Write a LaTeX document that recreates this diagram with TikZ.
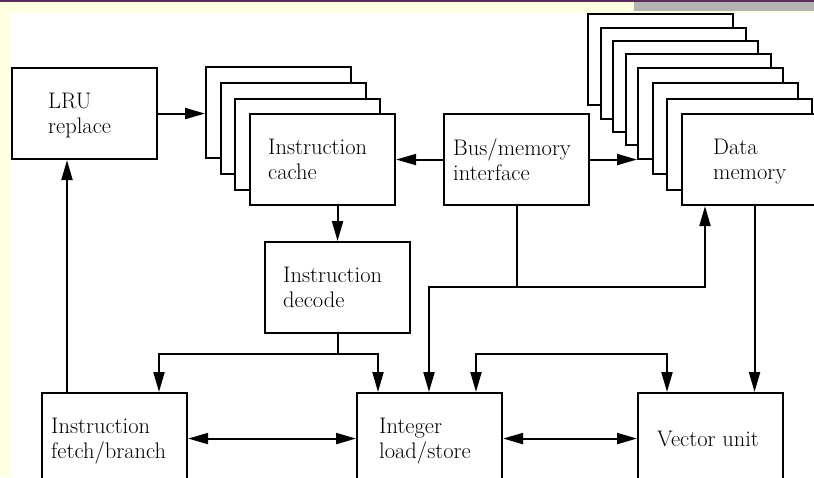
\documentclass[tikz,border=0pt]{standalone}
\usetikzlibrary{arrows.meta,calc}
\definecolor{pagebg}{HTML}{FFFFE2}
\definecolor{barpurple}{HTML}{5C2D5C}
\definecolor{tabgray}{HTML}{B3B3B3}
\tikzset{
  blk/.style={draw, fill=white, line width=2.1pt, minimum width=145pt,
    minimum height=91pt, inner sep=0pt, anchor=north west},
  lbl/.style={anchor=west, align=left, inner sep=0pt, text depth=0pt,
    font=\fontsize{22.5}{25}\selectfont},
  wire/.style={line width=2.1pt},
  arr/.style={wire, -{Triangle[length=20pt,width=11pt]}},
  darr/.style={wire, {Triangle[length=20pt,width=11pt]}-{Triangle[length=20pt,width=11pt]}},
}
\begin{document}
\begin{tikzpicture}[x=1pt,y=-1pt]
\useasboundingbox (0,0) rectangle (814,477);
\clip (0,0) rectangle (814,477);
% page background, title bar and tab
\fill[pagebg] (0,0) rectangle (814,477);
\fill[white] (9.5,13) rectangle (814,477);
\fill[tabgray] (634,1) rectangle (814,11);
\fill[barpurple] (0,0) rectangle (814,1.6);

% LRU replacement logic
\node[blk] (lru) at (11,67) {};
\node[lbl] (lruT) at ($(lru.west)+(37,0)$) {LRU\\replace};

% instruction cache banks
\node[blk] (c1) at (205,66) {};
\node[blk] (c2) at (220,82) {};
\node[blk] (c3) at (234,98) {};
\node[blk] (c4) at (249,113) {};
\node[lbl] (c4T) at ($(c4.west)+(19,0)$) {Instruction\\cache};

% bus interface
\node[blk] (bus) at (443,113) {};
\node[lbl] (busT) at ($(bus.west)+(10,0)$) {Bus/memory\\interface};

% data memory banks
\node[blk] (d1) at (587,13) {};
\node[blk] (d2) at (600,27) {};
\node[blk] (d3) at (612,40) {};
\node[blk] (d4) at (625,53) {};
\node[blk] (d5) at (637,67) {};
\node[blk] (d6) at (652,82) {};
\node[blk] (d7) at (666,98) {};
\node[blk] (d8) at (681,113) {};
\node[lbl] (d8T) at ($(d8.west)+(32,0)$) {Data\\memory};

% decode
\node[blk] (dec) at (264,241) {};
\node[lbl] (decT) at ($(dec.west)+(19,0)$) {Instruction\\decode};

% execution units
\node[blk] (fet) at (41,392) {};
\node[lbl] (fetT) at ($(fet.west)+(10,0)$) {Instruction\\fetch/branch};
\node[blk] (int) at (356,392) {};
\node[lbl] (intT) at ($(int.west)+(23,0)$) {Integer\\load/store};
\node[blk] (vec) at (637,392) {};
\node[lbl] (vecT) at ($(vec.west)+(20,0)$) {Vector unit};

% junction points of the wiring
\coordinate (fu) at (67,392);
\coordinate (dj) at (dec.south |- 0,354);
\coordinate (fd) at (159,354);
\coordinate (id) at (378,354);
\coordinate (bj) at (bus.south |- 0,287);
\coordinate (bl) at (429,287);
\coordinate (br) at (705,287);
\coordinate (il) at (476,354);
\coordinate (vr) at (667,354);

% connectors
\draw[arr] (lru.east) -- (lru.east -| c1.west);
\draw[arr] (bus.west) -- (bus.west -| c4.east);
\draw[arr] (bus.east) -- (bus.east -| d5.west);
\draw[arr] (dec.north |- c4.south) -- (dec.north);
\draw[arr] (fu) -- (fu |- lru.south);
\draw[wire] (dec.south) -- (dj);
\draw[arr] (dj) -- (fd) -- (fd |- fet.north);
\draw[arr] (dj) -- (id) -- (id |- int.north);
\draw[wire] (bus.south) -- (bj);
\draw[arr] (bj) -- (bl) -- (bl |- int.north);
\draw[arr] (bj) -- (br) -- (br |- d8.south);
\draw[darr] (il |- int.north) -- (il) -- (vr) -- (vr |- vec.north);
\draw[arr] (d8.south) -- (d8.south |- vec.north);
\draw[darr] (fet.east) -- (int.west);
\draw[darr] (int.east) -- (vec.west);
\end{tikzpicture}
\end{document}
